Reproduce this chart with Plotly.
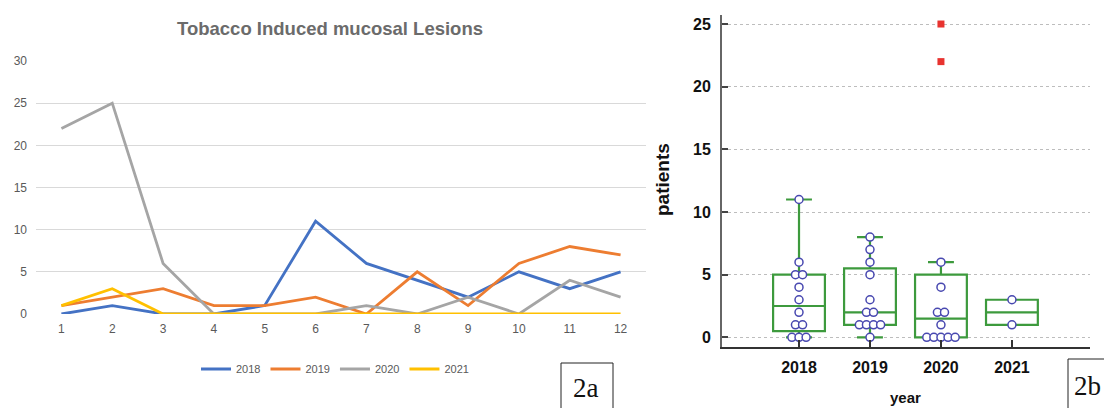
import plotly.graph_objects as go
import numpy as np

# ---------------- data ----------------
months = [1, 2, 3, 4, 5, 6, 7, 8, 9, 10, 11, 12]
s2018 = [0, 1, 0, 0, 1, 11, 6, 4, 2, 5, 3, 5]
s2019 = [1, 2, 3, 1, 1, 2, 0, 5, 1, 6, 8, 7]
s2020 = [22, 25, 6, 0, 0, 0, 1, 0, 2, 0, 4, 2]
s2021 = [1, 3, 0, 0, 0, 0, 0, 0, 0, 0, 0, 0]
line_names = ["2018", "2019", "2020", "2021"]
line_colors = ["#4472C4", "#ED7D31", "#A5A5A5", "#FFC000"]

box_years = ["2018", "2019", "2020", "2021"]
box_2018 = [0, 1, 0, 0, 1, 11, 6, 4, 2, 5, 3, 5]
box_2019 = [1, 2, 3, 1, 1, 2, 0, 5, 1, 6, 8, 7]
box_2020 = [22, 25, 6, 0, 0, 0, 1, 0, 2, 0, 4, 2]
box_2021 = [1, 3]

W, H = 1104, 408
def px(x):
    return x / W
def py(y):
    return (H - y) / H

GREEN = "#3d9a3d"
LFONT = "Liberation Sans Narrow, Arial Narrow, Liberation Sans, Arial, sans-serif"

fig = go.Figure()

# ---------------- left: line chart ----------------
for name, vals, col in zip(line_names, [s2018, s2019, s2020, s2021], line_colors):
    fig.add_trace(go.Scatter(x=months, y=vals, mode="lines", name=name,
                             line=dict(color=col, width=2.8),
                             xaxis="x", yaxis="y"))

# ---------------- right: box plot ----------------
def half_median_quartiles(v):
    s = sorted(v)
    n = len(s)
    lo = s[: n // 2]
    hi = s[(n + 1) // 2:]
    return float(np.median(lo)), float(np.median(hi))

all_box = [box_2018, box_2019, box_2020, box_2021]
for i, (yr, vals) in enumerate(zip(box_years, all_box)):
    fig.add_trace(go.Box(y=vals, x=[i] * len(vals), name=yr, width=0.73,
                         whiskerwidth=0.5, quartilemethod="exclusive",
                         line=dict(color=GREEN, width=2.2),
                         fillcolor="rgba(0,0,0,0)",
                         boxpoints="outliers",
                         marker=dict(symbol="square", color="#e8332f", size=7,
                                     line=dict(width=0)),
                         showlegend=False, xaxis="x2", yaxis="y2",
                         hoverinfo="y"))
    q1, q3 = half_median_quartiles(vals)
    iqr = q3 - q1
    lo_f, hi_f = q1 - 1.5 * iqr, q3 + 1.5 * iqr
    inliers = [v for v in vals if lo_f <= v <= hi_f]
    xs, ys = [], []
    for u in sorted(set(inliers)):
        k = inliers.count(u)
        for j in range(k):
            xs.append(i + (j - (k - 1) / 2) * 0.1)
            ys.append(u)
    fig.add_trace(go.Scatter(x=xs, y=ys, mode="markers", showlegend=False,
                             marker=dict(symbol="circle", size=8, color="white",
                                         line=dict(color="#4848b0", width=1.5)),
                             xaxis="x2", yaxis="y2"))

fig.update_layout(
    width=W, height=H, autosize=False,
    margin=dict(l=0, r=0, t=0, b=0, pad=0),
    paper_bgcolor="white", plot_bgcolor="white",
    showlegend=True,
    legend=dict(orientation="h", x=px(196), y=py(369), xanchor="left", yanchor="middle",
                font=dict(family=LFONT, size=11, color="#595959"),
                bgcolor="rgba(0,0,0,0)", itemwidth=30),
    xaxis=dict(domain=[px(36), px(646)], range=[0.5, 12.5], tickvals=months,
               showgrid=False, zeroline=False, showline=False, ticks="",
               tickfont=dict(family=LFONT, size=12, color="#595959"),
               ticklabelstandoff=6, automargin=False),
    yaxis=dict(domain=[py(314), py(61)], range=[0, 30], tickvals=[0, 5, 10, 15, 20, 25, 30],
               showgrid=True, gridcolor="#d9d9d9", gridwidth=1, zeroline=False,
               showline=False, ticks="",
               tickfont=dict(family=LFONT, size=12, color="#595959"),
               ticklabelstandoff=8, automargin=False),
    xaxis2=dict(domain=[px(722), px(1090)], range=[-1.085, 4.1], anchor="y2",
                tickvals=[0, 1, 2, 3], ticktext=box_years,
                showgrid=False, zeroline=False, showline=True, linecolor="#333333",
                linewidth=2, ticks="inside", ticklen=7, tickcolor="#333333", tickwidth=1.5,
                tickfont=dict(family=LFONT, size=16, color="#111111", weight="bold"),
                ticklabelstandoff=5, automargin=False),
    yaxis2=dict(domain=[py(347), py(15)], range=[-0.77, 25.72], anchor="x2",
                tickvals=[0, 5, 10, 15, 20, 25],
                showgrid=True, gridcolor="#bdbdbd", griddash="dot", gridwidth=1,
                zeroline=False, showline=True, linecolor="#666666", linewidth=2,
                ticks="inside", ticklen=6, tickcolor="#444444", tickwidth=1.5,
                tickfont=dict(family=LFONT, size=16, color="#111111", weight="bold"),
                ticklabelstandoff=6, automargin=False),
)

def ann(text, x, y, size, family, color, angle=0):
    fig.add_annotation(text=text, x=px(x), y=py(y), xref="paper", yref="paper",
                       xanchor="center", yanchor="middle", showarrow=False,
                       textangle=angle, font=dict(family=family, size=size, color=color))

ann("<b>Tobacco Induced mucosal Lesions</b>", 330, 29, 18.5,
    "Liberation Sans, Arial, sans-serif", "#6b6b6b")
ann("<b>patients</b>", 662, 180, 19, LFONT, "#111111", angle=-90)
ann("<b>year</b>", 905, 397, 15, LFONT, "#111111")

# panel labels
SERIF = "Liberation Serif, Times New Roman, serif"
fig.add_shape(type="rect", xref="paper", yref="paper", x0=px(561), x1=px(613),
              y0=py(412), y1=py(363), line=dict(color="#222222", width=1))
ann("2a", 586, 388, 27, SERIF, "#111111")
fig.add_shape(type="rect", xref="paper", yref="paper", x0=px(1068), x1=px(1110),
              y0=py(412), y1=py(359), line=dict(color="#222222", width=1))
ann("2b", 1087, 386, 27, SERIF, "#111111")

fig.write_html("out.html", config={"displayModeBar": False},
               post_script="document.body.style.margin='0';document.body.style.overflow='hidden';")
